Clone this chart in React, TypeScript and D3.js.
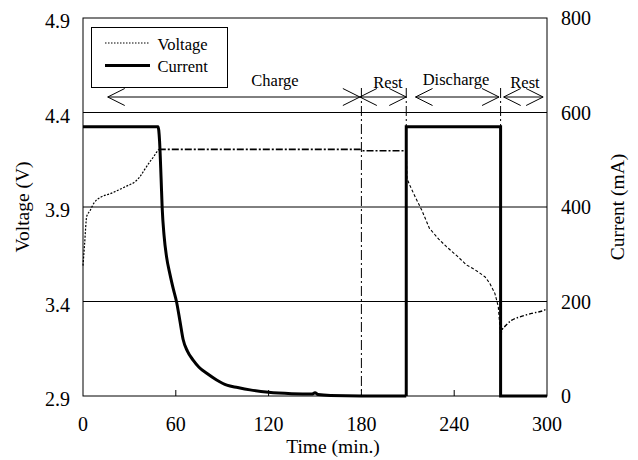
import React from "react";
import * as d3 from "d3";

// ---------- data ----------
const xTicks = [0, 60, 120, 180, 240, 300];
const vTicks = [2.9, 3.4, 3.9, 4.4, 4.9];
const iTicks = [0, 200, 400, 600, 800];
const vTickLabels = ["2.9", "3.4", "3.9", "4.4", "4.9"];
const iTickLabels = ["0", "200", "400", "600", "800"];

// current (mA): constant current then taper during charge
const curChgTime = [0, 48.5, 49.5, 50.5, 51.2, 52.4, 54, 56.2, 58.5, 60.5, 62.7, 64.7, 67.5, 71.2, 75, 80, 86.4, 93, 100, 108, 120, 135, 148, 150, 152, 160, 180, 209];
const curChgVal = [570, 570, 540, 460, 398, 340, 295, 258, 225, 199, 158, 120, 95, 76, 61, 48, 34, 23, 18, 13, 8, 5, 4, 7, 3, 1, 0, 0];
// current (mA): rest / discharge / rest steps
const curStepTime = [209, 209, 270, 270, 300];
const curStepVal = [0, 570, 570, 0, 0];

// voltage (V): constant-current charge
const vCcTime = [0, 1, 2.4, 4.5, 7, 11, 17.5, 23, 28, 33, 36.8, 40, 43.3, 46, 47.6, 49];
const vCcVal = [3.59, 3.70, 3.85, 3.88, 3.92, 3.95, 3.97, 3.99, 4.01, 4.03, 4.06, 4.10, 4.14, 4.17, 4.19, 4.205];
// constant-voltage charge + rest
const vCvTime = [49, 100, 150, 179, 181, 209];
const vCvVal = [4.205, 4.205, 4.205, 4.205, 4.198, 4.198];
// discharge
const vDisTime = [209, 209.5, 211, 215, 219, 224, 230, 235, 242, 248, 253, 256.6, 260, 263, 266.3, 268.5, 270];
const vDisVal = [4.198, 4.05, 4.02, 3.95, 3.884, 3.787, 3.73, 3.69, 3.64, 3.593, 3.57, 3.55, 3.53, 3.496, 3.443, 3.373, 3.22];
// rest after discharge
const vRestTime = [270, 271, 273, 277, 283, 290, 297, 300];
const vRestVal = [3.22, 3.25, 3.27, 3.30, 3.32, 3.337, 3.35, 3.36];

// phase annotations
const phaseLabels = ["Charge", "Rest", "Discharge", "Rest"];
const phaseStart = [16, 179, 215, 272];
const phaseEnd = [179, 209, 269, 297.5];
const phaseMarkers = [180, 209, 270];

const W = 638;
const H = 460;
const FONT = "'Liberation Serif', 'DejaVu Serif', serif";

export default function App() {
  const x = d3.scaleLinear().domain([0, 300]).range([83, 547]);
  const yV = d3.scaleLinear().domain([2.9, 4.9]).range([396, 18]);
  const yI = d3.scaleLinear().domain([0, 800]).range([396, 18]);

  const lineOf = (t: number[], y: (v: number) => number, curve: d3.CurveFactory = d3.curveLinear) =>
    d3
      .line<number>()
      .x((_, i) => x(t[i]))
      .y((d) => y(d))
      .curve(curve);

  const [x0, x1] = x.range();
  const [yB, yT] = yV.range();
  const arrowY = yV(4.482);
  const headL = 17;
  const headH = 8.5;
  const txt: React.CSSProperties = { fontFamily: FONT };

  return (
    <svg
      width={W}
      height={H}
      style={{ position: "absolute", left: 0, top: 0, background: "#fff", fontFamily: FONT }}
    >
      <rect x={0} y={0} width={W} height={H} fill="#fff" />
      {/* grid lines */}
      {vTicks.slice(1, -1).map((v) => (
        <line key={v} x1={x0} x2={x1} y1={yV(v)} y2={yV(v)} stroke="#000" strokeWidth={1} />
      ))}
      {/* x ticks inward */}
      {xTicks.slice(1, -1).map((t) => (
        <line key={t} x1={x(t)} x2={x(t)} y1={yB} y2={yB - 6} stroke="#000" strokeWidth={1} />
      ))}
      {/* phase marker verticals */}
      {phaseMarkers.map((t) => (
        <line
          key={t}
          x1={x(t)}
          x2={x(t)}
          y1={arrowY - 9}
          y2={yB}
          stroke="#000"
          strokeWidth={1}
          strokeDasharray="10,3,2,3"
        />
      ))}
      {/* voltage */}
      <path d={lineOf(vCcTime, yV, d3.curveMonotoneX)(vCcVal) || ""} fill="none" stroke="#000" strokeWidth={1.2} strokeDasharray="2,1.5" />
      <path d={lineOf(vCvTime, yV)(vCvVal) || ""} fill="none" stroke="#000" strokeWidth={1.6} strokeDasharray="7,2,2,2" />
      <path d={lineOf(vDisTime, yV)(vDisVal) || ""} fill="none" stroke="#000" strokeWidth={1.1} strokeDasharray="3,2" />
      <path d={lineOf(vRestTime, yV, d3.curveMonotoneX)(vRestVal) || ""} fill="none" stroke="#000" strokeWidth={1.4} strokeDasharray="4,2,1.5,2" />
      {/* current */}
      <path
        d={lineOf(curChgTime, yI, d3.curveMonotoneX)(curChgVal) || ""}
        fill="none"
        stroke="#000"
        strokeWidth={3}
        strokeLinejoin="round"
      />
      <path
        d={lineOf(curStepTime, yI)(curStepVal) || ""}
        fill="none"
        stroke="#000"
        strokeWidth={3}
        strokeLinejoin="miter"
      />
      {/* plot border */}
      <rect x={x0} y={yT} width={x1 - x0} height={yB - yT} fill="none" stroke="#000" strokeWidth={1} />

      {/* phase arrows */}
      {phaseLabels.map((lab, i) => {
        const a = x(phaseStart[i]);
        const b = x(phaseEnd[i]);
        return (
          <g key={i}>
            <line x1={a} x2={b} y1={arrowY} y2={arrowY} stroke="#000" strokeWidth={1} />
            <polyline
              points={`${a + headL},${arrowY - headH} ${a},${arrowY} ${a + headL},${arrowY + headH}`}
              fill="none"
              stroke="#000"
              strokeWidth={1}
            />
            <polyline
              points={`${b - headL},${arrowY - headH} ${b},${arrowY} ${b - headL},${arrowY + headH}`}
              fill="none"
              stroke="#000"
              strokeWidth={1}
            />
          </g>
        );
      })}
      <text style={txt} x={275} y={86} fontSize={16.5} textAnchor="middle">{phaseLabels[0]}</text>
      <text style={txt} x={388} y={88} fontSize={16.5} textAnchor="middle">{phaseLabels[1]}</text>
      <text style={txt} x={456} y={85} fontSize={16.5} textAnchor="middle">{phaseLabels[2]}</text>
      <text style={txt} x={525} y={88} fontSize={16.5} textAnchor="middle">{phaseLabels[3]}</text>

      {/* legend */}
      <rect x={91.5} y={27.5} width={136} height={60} fill="#fff" stroke="#000" strokeWidth={1} />
      <line x1={105} x2={150} y1={43} y2={43} stroke="#000" strokeWidth={1.2} strokeDasharray="1.5,1.5" />
      <text style={txt} x={157.5} y={50} fontSize={16.5}>Voltage</text>
      <line x1={105} x2={150} y1={65.5} y2={65.5} stroke="#000" strokeWidth={3} />
      <text style={txt} x={157.5} y={72} fontSize={16.5}>Current</text>

      {/* left tick labels */}
      {vTicks.map((v, i) => (
        <text style={txt} key={v} x={70} y={yV(v) + 10} fontSize={20} textAnchor="end">
          {vTickLabels[i]}
        </text>
      ))}
      {/* right tick labels */}
      {iTicks.map((v, i) => (
        <text style={txt} key={v} x={561} y={yI(v) + 7} fontSize={20} textAnchor="start">
          {iTickLabels[i]}
        </text>
      ))}
      {/* x tick labels */}
      {xTicks.map((t) => (
        <text style={txt} key={t} x={x(t)} y={431} fontSize={20} textAnchor="middle">
          {t}
        </text>
      ))}
      {/* axis titles */}
      <text style={txt} x={333} y={453} fontSize={19.5} textAnchor="middle">Time (min.)</text>
      <text
        style={txt}
        transform={`translate(29,${(yT + yB) / 2}) rotate(-90)`}
        fontSize={19.5}
        textAnchor="middle"
      >
        Voltage (V)
      </text>
      <text
        style={txt}
        transform={`translate(624,${(yT + yB) / 2}) rotate(-90)`}
        fontSize={19.5}
        textAnchor="middle"
      >
        Current (mA)
      </text>
    </svg>
  );
}
